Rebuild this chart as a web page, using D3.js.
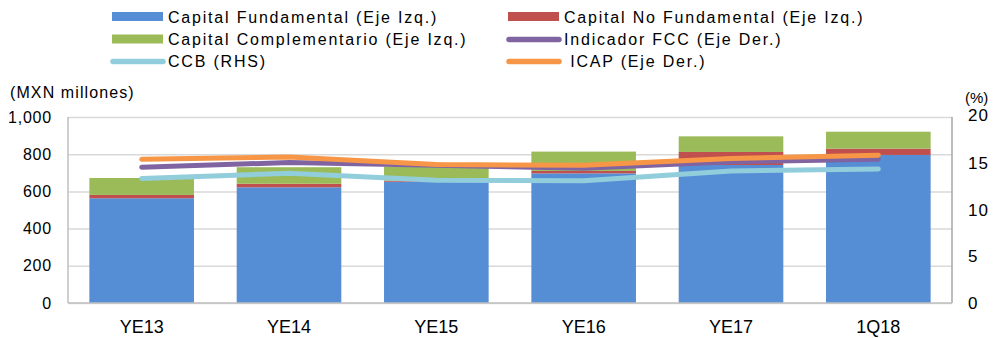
<!DOCTYPE html>
<html>
<head>
<meta charset="utf-8">
<script src="https://cdn.jsdelivr.net/npm/d3@7"></script>
<style>
  body { margin: 0; background: #fff; }
  svg { font-family: "Liberation Sans", Arial, sans-serif; }
</style>
</head>
<body>
<div id="chart"></div>
<script>
// data
const categories = ['YE13', 'YE14', 'YE15', 'YE16', 'YE17', '1Q18'];
const capitalFundamental = [563, 622, 652, 697, 742, 796];
const capitalNoFundamental = [18, 19, 5, 13, 70, 34];
const capitalComplementario = [91, 89, 76, 104, 84, 91];
const indicadorFCC = [14.6, 15.1, 14.8, 14.5, 15.2, 15.45];
const icap = [15.45, 15.7, 14.9, 14.8, 15.55, 15.9];
const ccb = [13.4, 13.95, 13.2, 13.15, 14.2, 14.4];
const leftTicks = [0, 200, 400, 600, 800, 1000];
const rightTicks = [0, 5, 10, 15, 20];

const width = 993, height = 338;
const margin = { top: 117, right: 41, bottom: 35, left: 68 };
const w = width - margin.left - margin.right;
const h = height - margin.top - margin.bottom;

const svg = d3.select('#chart').append('svg')
    .attr('width', width)
    .attr('height', height);

const g = svg.append('g')
    .attr('transform', `translate(${margin.left},${margin.top})`);

const x = d3.scaleBand().domain(categories).range([0, w]).paddingInner(0.29).paddingOuter(0.145);
const y = d3.scaleLinear().domain([0, 1000]).range([h, 0]);
const y2 = d3.scaleLinear().domain([0, 20]).range([h, 0]);

// grid lines
g.append('g')
    .call(d3.axisLeft(y).tickValues(leftTicks).tickSize(-w).tickFormat(''))
    .call(s => s.select('.domain').remove())
    .selectAll('line')
    .attr('stroke', '#d9d9d9')
    .attr('stroke-width', 1.5);

// stacked bars
const stackData = categories.map((c, i) => ({
    cat: c,
    fund: capitalFundamental[i],
    nofund: capitalNoFundamental[i],
    comp: capitalComplementario[i]
}));
const series = d3.stack().keys(['fund', 'nofund', 'comp'])(stackData);
const barColors = { fund: '#558ed5', nofund: '#c0504d', comp: '#9bbb59' };

g.selectAll('.layer')
    .data(series)
    .enter().append('g')
    .attr('fill', d => barColors[d.key])
    .selectAll('rect')
    .data(d => d)
    .enter().append('rect')
    .attr('x', d => x(d.data.cat))
    .attr('y', d => y(d[1]))
    .attr('width', x.bandwidth())
    .attr('height', d => y(d[0]) - y(d[1]));

// axis lines
g.append('line').attr('x1', 0).attr('x2', 0).attr('y1', 0).attr('y2', h)
    .attr('stroke', '#bfbfbf').attr('stroke-width', 1.5);
g.append('line').attr('x1', w).attr('x2', w).attr('y1', 0).attr('y2', h)
    .attr('stroke', '#a6a6a6').attr('stroke-width', 1.5);
g.append('line').attr('x1', 0).attr('x2', w).attr('y1', h).attr('y2', h)
    .attr('stroke', '#bfbfbf').attr('stroke-width', 1.5);

// lines on the right axis
const line = d3.line()
    .x((d, i) => x(categories[i]) + x.bandwidth() / 2)
    .y(d => y2(d));

const lineSeries = [
    { values: ccb, color: '#92cddc' },
    { values: indicadorFCC, color: '#8064a2' },
    { values: icap, color: '#f79646' }
];
lineSeries.forEach(s => {
    g.append('path')
        .datum(s.values)
        .attr('fill', 'none')
        .attr('stroke', s.color)
        .attr('stroke-width', 5)
        .attr('stroke-linecap', 'round')
        .attr('stroke-linejoin', 'round')
        .attr('d', line);
});

// left axis labels
g.append('g')
    .call(d3.axisLeft(y).tickValues(leftTicks).tickSize(0).tickPadding(16).tickFormat(d3.format(',')))
    .call(s => s.select('.domain').remove())
    .selectAll('text')
    .style('font-size', '16px')
    .style('letter-spacing', '0.8px')
    .style('fill', '#000');

// right axis labels
g.append('g')
    .attr('transform', `translate(${w},0)`)
    .call(d3.axisRight(y2).tickValues(rightTicks).tickSize(0).tickPadding(16))
    .call(s => s.select('.domain').remove())
    .selectAll('text')
    .style('font-size', '17px')
    .style('letter-spacing', '1px')
    .style('fill', '#000')
    .attr('dy', d => d === 20 ? '0.2em' : '0.32em');

// x axis labels
g.append('g')
    .attr('transform', `translate(0,${h})`)
    .call(d3.axisBottom(x).tickSize(0).tickPadding(17))
    .call(s => s.select('.domain').remove())
    .selectAll('text')
    .style('font-size', '18px')
    .style('fill', '#000');

// axis titles
svg.append('text')
    .attr('x', 10).attr('y', 98)
    .style('font-size', '16px')
    .style('letter-spacing', '1.1px')
    .text('(MXN millones)');

svg.append('text')
    .attr('x', 965).attr('y', 103)
    .style('font-size', '15px')
    .text('(%)');

// legend
const legend = [
    { label: 'Capital Fundamental (Eje Izq.)', color: '#558ed5', type: 'rect', x: 112, y: 17 },
    { label: 'Capital No Fundamental (Eje Izq.)', color: '#c0504d', type: 'rect', x: 508, y: 17 },
    { label: 'Capital Complementario (Eje Izq.)', color: '#9bbb59', type: 'rect', x: 112, y: 39.5 },
    { label: 'Indicador FCC (Eje Der.)', color: '#8064a2', type: 'line', x: 508, y: 39.5 },
    { label: 'CCB (RHS)', color: '#92cddc', type: 'line', x: 112, y: 61.5 },
    { label: ' ICAP (Eje Der.)', color: '#f79646', type: 'line', x: 508, y: 61.5 }
];

const lg = svg.append('g');
legend.forEach(d => {
    if (d.type === 'rect') {
        lg.append('rect')
            .attr('x', d.x).attr('y', d.y - 5)
            .attr('width', 51).attr('height', 9)
            .attr('fill', d.color);
    } else {
        lg.append('line')
            .attr('x1', d.x + 1).attr('x2', d.x + 51)
            .attr('y1', d.y).attr('y2', d.y)
            .attr('stroke', d.color)
            .attr('stroke-width', 5.5)
            .attr('stroke-linecap', 'round');
    }
    lg.append('text')
        .attr('x', d.x + 56).attr('y', d.y)
        .attr('dy', '0.36em')
        .style('font-size', '16px')
        .style('letter-spacing', '1.8px')
        .style('white-space', 'pre')
        .text(d.label);
});
</script>
</body>
</html>
